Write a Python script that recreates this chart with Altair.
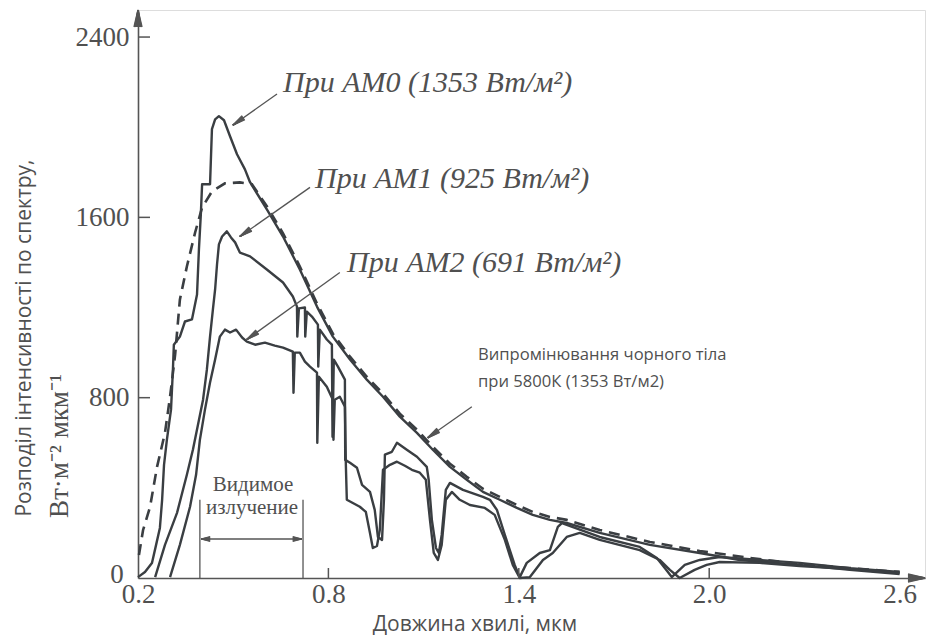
import math
import altair as alt
import pandas as pd

# ---------------- data ----------------
am0_wl = [0.200, 0.222, 0.244, 0.257, 0.269, 0.276, 0.282, 0.291, 0.304, 0.310, 0.313, 0.332,
          0.348, 0.370, 0.386, 0.392, 0.398, 0.402, 0.427, 0.433, 0.443, 0.455, 0.471, 0.490,
          0.512, 0.537, 0.553, 0.606, 0.657, 0.710, 0.764, 0.814, 0.868, 0.921, 0.972, 1.025,
          1.079, 1.129, 1.183, 1.236, 1.287, 1.340, 1.394, 1.444, 1.498, 1.551, 1.655, 1.813,
          1.970, 2.096, 2.285, 2.443, 2.600]
am0_val = [4, 27, 67, 147, 222, 347, 502, 613, 747, 924, 1035, 1071,
           1138, 1147, 1258, 1458, 1613, 1747, 1747, 1991, 2035, 2049, 2031, 1960,
           1880, 1813, 1756, 1635, 1515, 1369, 1204, 1071, 969, 880, 804, 716,
           644, 569, 493, 436, 382, 347, 311, 280, 258, 244, 200, 147,
           111, 80, 58, 36, 18]

am1_wl = [0.254, 0.285, 0.323, 0.354, 0.373, 0.389, 0.405, 0.417, 0.427, 0.436, 0.443, 0.449,
          0.455, 0.465, 0.480, 0.493, 0.506, 0.521, 0.553, 0.606, 0.657, 0.688, 0.701, 0.702,
          0.707, 0.726, 0.727, 0.732, 0.748, 0.767, 0.768, 0.773, 0.795, 0.811, 0.813, 0.817,
          0.830, 0.852, 0.853, 0.868, 0.890, 0.906, 0.931, 0.946, 0.956, 0.969, 0.975, 0.978,
          1.000, 1.016, 1.047, 1.079, 1.110, 1.116, 1.126, 1.139, 1.148, 1.157, 1.170, 1.183,
          1.224, 1.287, 1.309, 1.331, 1.356, 1.387, 1.403, 1.425, 1.466, 1.498, 1.523, 1.536,
          1.655, 1.781, 1.835, 1.860, 1.882, 1.923, 1.970, 2.033, 2.159, 2.285, 2.443, 2.600]
am1_val = [4, 147, 289, 458, 569, 680, 791, 924, 1071, 1191, 1280, 1391,
           1480, 1515, 1538, 1511, 1489, 1444, 1427, 1369, 1311, 1249, 1204, 1071,
           1196, 1200, 1071, 1182, 1160, 1124, 938, 1102, 1058, 1035, 627, 969,
           938, 880, 524, 511, 489, 413, 382, 302, 182, 169, 347, 547,
           560, 600, 569, 538, 493, 436, 258, 133, 111, 191, 391, 422,
           391, 360, 347, 302, 191, 58, 4, 67, 111, 124, 227, 244,
           182, 138, 89, 44, 4, 58, 80, 93, 80, 67, 44, 27]

am2_wl = [0.301, 0.332, 0.364, 0.383, 0.395, 0.411, 0.427, 0.443, 0.458, 0.474, 0.490, 0.509,
          0.528, 0.543, 0.569, 0.600, 0.631, 0.657, 0.688, 0.690, 0.694, 0.710, 0.726, 0.742,
          0.764, 0.765, 0.770, 0.795, 0.814, 0.816, 0.820, 0.836, 0.852, 0.855, 0.858, 0.899,
          0.918, 0.931, 0.940, 0.953, 0.962, 0.972, 0.994, 1.016, 1.041, 1.063, 1.088, 1.107,
          1.120, 1.132, 1.145, 1.157, 1.170, 1.189, 1.214, 1.246, 1.293, 1.324, 1.356, 1.381,
          1.403, 1.435, 1.476, 1.507, 1.551, 1.592, 1.655, 1.781, 1.844, 1.876, 1.907, 1.954,
          1.992, 2.033, 2.159, 2.285, 2.443, 2.600]
am2_val = [4, 147, 316, 458, 613, 747, 867, 969, 1071, 1102, 1089, 1102,
           1067, 1049, 1035, 1044, 1031, 1022, 1004, 822, 1000, 1000, 960, 938,
           911, 600, 893, 849, 791, 613, 791, 804, 760, 502, 347, 316,
           293, 200, 133, 142, 213, 480, 502, 516, 498, 480, 467, 436,
           258, 111, 80, 147, 347, 382, 347, 324, 311, 280, 169, 58,
           0, 4, 80, 111, 182, 200, 169, 124, 80, 36, 0, 36,
           58, 71, 67, 53, 40, 22]

bb_wl = [0.203, 0.216, 0.238, 0.260, 0.285, 0.301, 0.317, 0.332, 0.354, 0.380, 0.402, 0.433,
         0.474, 0.521, 0.559, 0.606, 0.657, 0.710, 0.764, 0.814, 0.868, 0.921, 0.972, 1.025,
         1.079, 1.129, 1.183, 1.236, 1.287, 1.340, 1.394, 1.444, 1.498, 1.551, 1.655, 1.813,
         1.970, 2.128, 2.285, 2.443, 2.600]
bb_val = [102, 213, 316, 493, 644, 804, 991, 1235, 1382, 1533, 1644, 1715,
          1751, 1755, 1747, 1649, 1529, 1382, 1218, 1084, 982, 893, 818, 729,
          658, 582, 507, 449, 396, 360, 324, 293, 271, 258, 213, 160,
          120, 89, 62, 44, 27]

x_ticks = [0.2, 0.8, 1.4, 2.0, 2.6]
y_ticks = [0, 800, 1600, 2400]

# leader arrows: start (label end) -> tip (curve)
arrow_x1 = [0.638, 0.742, 0.836, 1.252]
arrow_y1 = [2147, 1733, 1355, 760]
arrow_x2 = [0.499, 0.521, 0.543, 1.113]
arrow_y2 = [2009, 1515, 1058, 622]

visible_from, visible_to = 0.395, 0.72
visible_arrow_y = 173
visible_top = 347

# ---------------- layout constants ----------------
W, H = 787, 568
XMIN, XMAX = 0.2, 2.68
YMIN, YMAX = 0, 2520
KX = W / (XMAX - XMIN)   # px per micron
KY = H / (YMAX - YMIN)   # px per unit

LINE = "#3a3e42"
AX = "#555555"
TXT = "#505050"


def head_rows(xt, yt, ux, uy, length, width, n=9):
    """Fan of short segments forming a filled arrowhead; (ux, uy) unit vector in
    screen space (y down) pointing toward the tip."""
    nx, ny = -uy, ux
    out = []
    for k in range(n):
        f = -0.5 + k / (n - 1)
        px = -length * ux + f * width * nx
        py = -length * uy + f * width * ny
        out.append({"xa": xt, "ya": yt, "xb": xt + px / KX, "yb": yt - py / KY})
    return out


# ---------------- build tables ----------------
rows = []
for name, wls, vals in [("AM0", am0_wl, am0_val), ("AM1", am1_wl, am1_val),
                        ("AM2", am2_wl, am2_val)]:
    for i, (w, v) in enumerate(zip(wls, vals)):
        rows.append({"series": name, "wl": w, "val": v, "i": i})
df_solid = pd.DataFrame(rows)
df_bb = pd.DataFrame({"wl": bb_wl, "val": bb_val, "i": range(len(bb_wl))})

xs = alt.Scale(domain=[XMIN, XMAX], nice=False, zero=False)
ys = alt.Scale(domain=[YMIN, YMAX], nice=False, zero=False)

xaxis = alt.Axis(values=x_ticks, format=".1f", ticks=False, grid=False, domainColor=AX,
                 domainWidth=1.6, labelFont="Liberation Serif", labelFontSize=27,
                 labelColor=TXT, labelPadding=3, labelFlush=False, labelOverlap=False,
                 title=None)
yaxis = alt.Axis(values=y_ticks[1:], format="d", ticks=False, grid=False, domainColor=AX,
                 domainWidth=1.6, labelFont="Liberation Serif", labelFontSize=27,
                 labelColor=TXT, labelPadding=9, labelFlush=False, labelOverlap=False,
                 title=None)

solid = alt.Chart(df_solid).mark_line(strokeWidth=2.4, color=LINE, strokeJoin="round").encode(
    x=alt.X("wl:Q", scale=xs, axis=xaxis),
    y=alt.Y("val:Q", scale=ys, axis=yaxis),
    detail="series:N",
    order="i:Q",
)
dashed = alt.Chart(df_bb).mark_line(strokeWidth=2.6, color=LINE, strokeDash=[11, 7]).encode(
    x=alt.X("wl:Q", scale=xs), y=alt.Y("val:Q", scale=ys), order="i:Q"
)

# thin annotation segments: inward ticks, leaders, bracket, arrowheads
seg = []
for t in x_ticks[1:4]:
    seg.append({"xa": t, "ya": 0, "xb": t, "yb": 10 / KY, "w": 1.5})
for t in y_ticks[1:]:
    seg.append({"xa": XMIN, "ya": t, "xb": XMIN + 12 / KX, "yb": t, "w": 1.5})
for x1, y1, x2, y2 in zip(arrow_x1, arrow_y1, arrow_x2, arrow_y2):
    seg.append({"xa": x1, "ya": y1, "xb": x2, "yb": y2, "w": 1.3})
    dx, dy = (x2 - x1) * KX, -(y2 - y1) * KY
    d = math.hypot(dx, dy)
    for r in head_rows(x2, y2, dx / d, dy / d, 13, 5):
        seg.append({**r, "w": 1.3})
for v in (visible_from, visible_to):
    seg.append({"xa": v, "ya": 0, "xb": v, "yb": visible_top, "w": 1.3})
seg.append({"xa": visible_from + 0.004, "ya": visible_arrow_y, "xb": visible_to - 0.004,
            "yb": visible_arrow_y, "w": 1.3})
for r in head_rows(visible_from + 0.004, visible_arrow_y, -1, 0, 9, 5):
    seg.append({**r, "w": 1.2})
for r in head_rows(visible_to - 0.004, visible_arrow_y, 1, 0, 9, 5):
    seg.append({**r, "w": 1.2})
# axis arrowheads
for r in head_rows(XMIN, YMAX, 0, -1, 17, 8, n=13):
    seg.append({**r, "w": 1.4})
for r in head_rows(XMAX, YMIN, 1, 0, 17, 8, n=13):
    seg.append({**r, "w": 1.4})
df_seg = pd.DataFrame(seg)

segments = alt.Chart(df_seg).mark_rule(color=AX, strokeCap="butt").encode(
    x=alt.X("xa:Q", scale=xs), y=alt.Y("ya:Q", scale=ys), x2="xb:Q", y2="yb:Q",
    strokeWidth=alt.StrokeWidth("w:Q", scale=None))


def label(text, x, y, **kw):
    return alt.Chart(pd.DataFrame({"t": [text]})).mark_text(**kw).encode(
        text="t:N", x=alt.value(x), y=alt.value(y))


serif_it = dict(font="Liberation Serif", fontStyle="italic", fontSize=30, color=TXT,
                align="left", baseline="alphabetic")
labels = [
    label("При АМ0 (1353 Вт/м²)", 145, 82, **serif_it),
    label("При АМ1 (925 Вт/м²)", 177, 178, **serif_it),
    label("При АМ2 (691 Вт/м²)", 209, 262, **serif_it),
    label("Випромінювання чорного тіла", 340, 350, font="Open Sans", fontSize=16.6,
          color=TXT, align="left", baseline="alphabetic"),
    label("при 5800К (1353 Вт/м2)", 340, 377, font="Open Sans", fontSize=16.6,
          color=TXT, align="left", baseline="alphabetic"),
    label("Видимое", 115, 481, font="Liberation Serif", fontSize=21, color=TXT,
          align="center", baseline="alphabetic"),
    label("излучение", 114, 504, font="Liberation Serif", fontSize=21, color=TXT,
          align="center", baseline="alphabetic"),
    label("0", -21, 565, font="Liberation Serif", fontSize=27, color=TXT,
          align="center", baseline="middle"),
    label("Розподіл інтенсивності по спектру,", -113, 328, font="Open Sans", fontSize=21,
          color=TXT, align="center", baseline="middle", angle=270),
    label("Вт·м⁻² мкм⁻¹", -78, 436, font="Liberation Serif", fontSize=27, color=TXT,
          align="center", baseline="middle", angle=270),
    label("Довжина хвилі, мкм", 337, 615, font="Open Sans", fontSize=21, color=TXT,
          align="center", baseline="middle"),
]

chart = alt.layer(
    dashed, solid, segments, *labels
).properties(
    width=W, height=H,
    autosize=alt.AutoSizeParams(type="none"),
    padding={"left": 130, "top": 2, "right": 5, "bottom": 58},
).configure_view(stroke=None).configure(background="white")

chart.save("out.html", embed_options={"renderer": "svg", "actions": False})
